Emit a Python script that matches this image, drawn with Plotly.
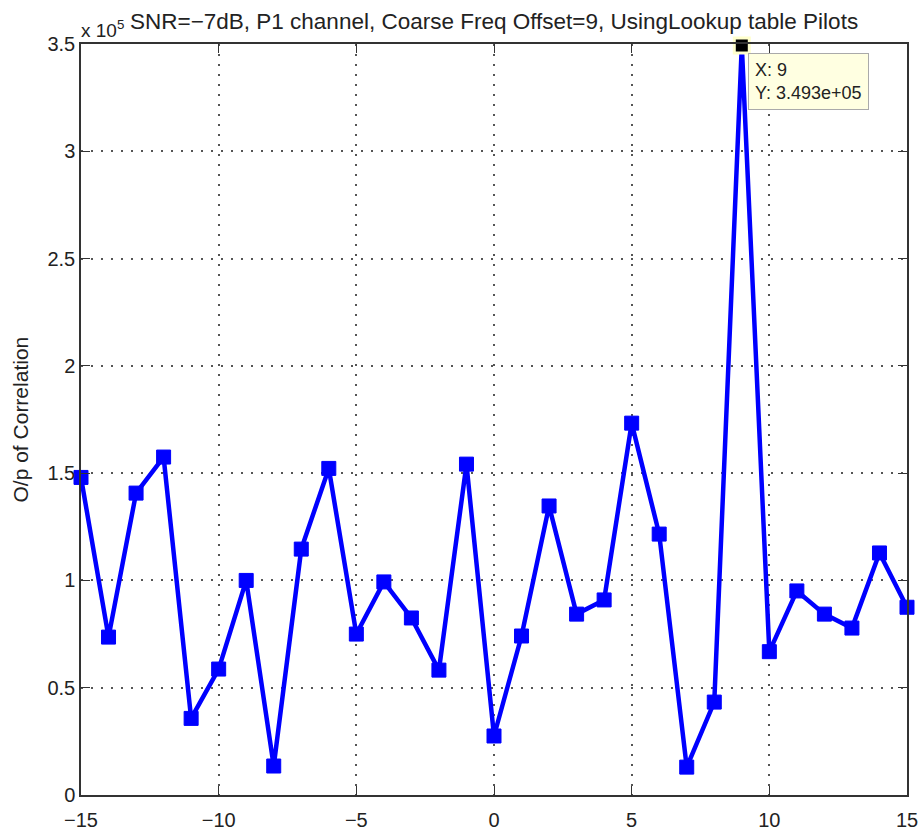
import plotly.graph_objects as go

offsets = list(range(-15, 16))
corr_1e5 = [1.48, 0.736, 1.407, 1.575, 0.357, 0.587, 1.0, 0.135, 1.146, 1.522,
            0.75, 0.993, 0.825, 0.582, 1.542, 0.275, 0.741, 1.347, 0.843, 0.909,
            1.733, 1.216, 0.13, 0.433, 3.493, 0.668, 0.951, 0.843, 0.778, 1.128, 0.875]
peak_x = 9
peak_y = 3.493
title_text = "SNR=\u22127dB, P1 channel, Coarse Freq Offset=9, UsingLookup table Pilots"
y_label = "O/p of Correlation"
x_ticks = [-15, -10, -5, 0, 5, 10, 15]
y_ticks = [0, 0.5, 1, 1.5, 2, 2.5, 3, 3.5]

FONT = "Liberation Sans, Arial, sans-serif"
TXT = "#222222"

fig = go.Figure()
fig.add_trace(go.Scatter(
    x=offsets, y=corr_1e5, mode="lines+markers",
    line=dict(color="#0000FF", width=4.5),
    marker=dict(symbol="square", size=14, color="#0000FF",
                line=dict(color="#0000FF", width=1)),
    cliponaxis=False, showlegend=False, hoverinfo="x+y"))
fig.add_trace(go.Scatter(
    x=[peak_x], y=[peak_y], mode="markers",
    marker=dict(symbol="square", size=15, color="black",
                line=dict(color="#FFFFCC", width=3)),
    cliponaxis=False, showlegend=False))

axis_common = dict(
    showline=True, linecolor="#333333", linewidth=1.5, mirror="ticks",
    ticks="inside", ticklen=9, tickcolor="#333333", tickwidth=1.2,
    showgrid=True, gridcolor="#555555", griddash="2px,8px", gridwidth=1.5,
    zeroline=False, automargin=False,
    tickfont=dict(family=FONT, size=20, color=TXT),
)
fig.update_xaxes(range=[-15, 15], tickvals=x_ticks, ticklabelstandoff=6, **axis_common)
fig.update_yaxes(range=[0, 3.5], tickvals=y_ticks, **axis_common)

fig.add_annotation(xref="paper", yref="paper", x=(20 - 81) / 826, y=0.5,
                   xanchor="center", yanchor="middle", showarrow=False, textangle=-90,
                   text=y_label, font=dict(family=FONT, size=21, color=TXT))
fig.add_annotation(xref="paper", yref="paper", x=-0.002, y=(795 - 29) / 751,
                   xanchor="left", yanchor="middle", showarrow=False,
                   text="x 10<sup>5</sup>", font=dict(family=FONT, size=19, color=TXT))
fig.add_annotation(xref="paper", yref="paper", x=0.5, y=(795 - 21) / 751,
                   xanchor="center", yanchor="middle", showarrow=False,
                   text=title_text, font=dict(family=FONT, size=22.5, color=TXT))
fig.add_annotation(xref="paper", yref="paper", x=(748 - 81) / 826, y=(795 - 53) / 751,
                   xanchor="left", yanchor="top", showarrow=False, align="left",
                   text=f"X: {peak_x}<br>Y: {peak_y*1e5:.3e}",
                   bgcolor="#FFFFE1", bordercolor="#AAAAAA", borderwidth=1, borderpad=6,
                   font=dict(family=FONT, size=18, color=TXT))

fig.update_layout(
    width=922, height=834,
    margin=dict(l=81, r=15, t=44, b=39),
    paper_bgcolor="white", plot_bgcolor="white",
    font=dict(family=FONT),
)
fig.write_html("out.html")
